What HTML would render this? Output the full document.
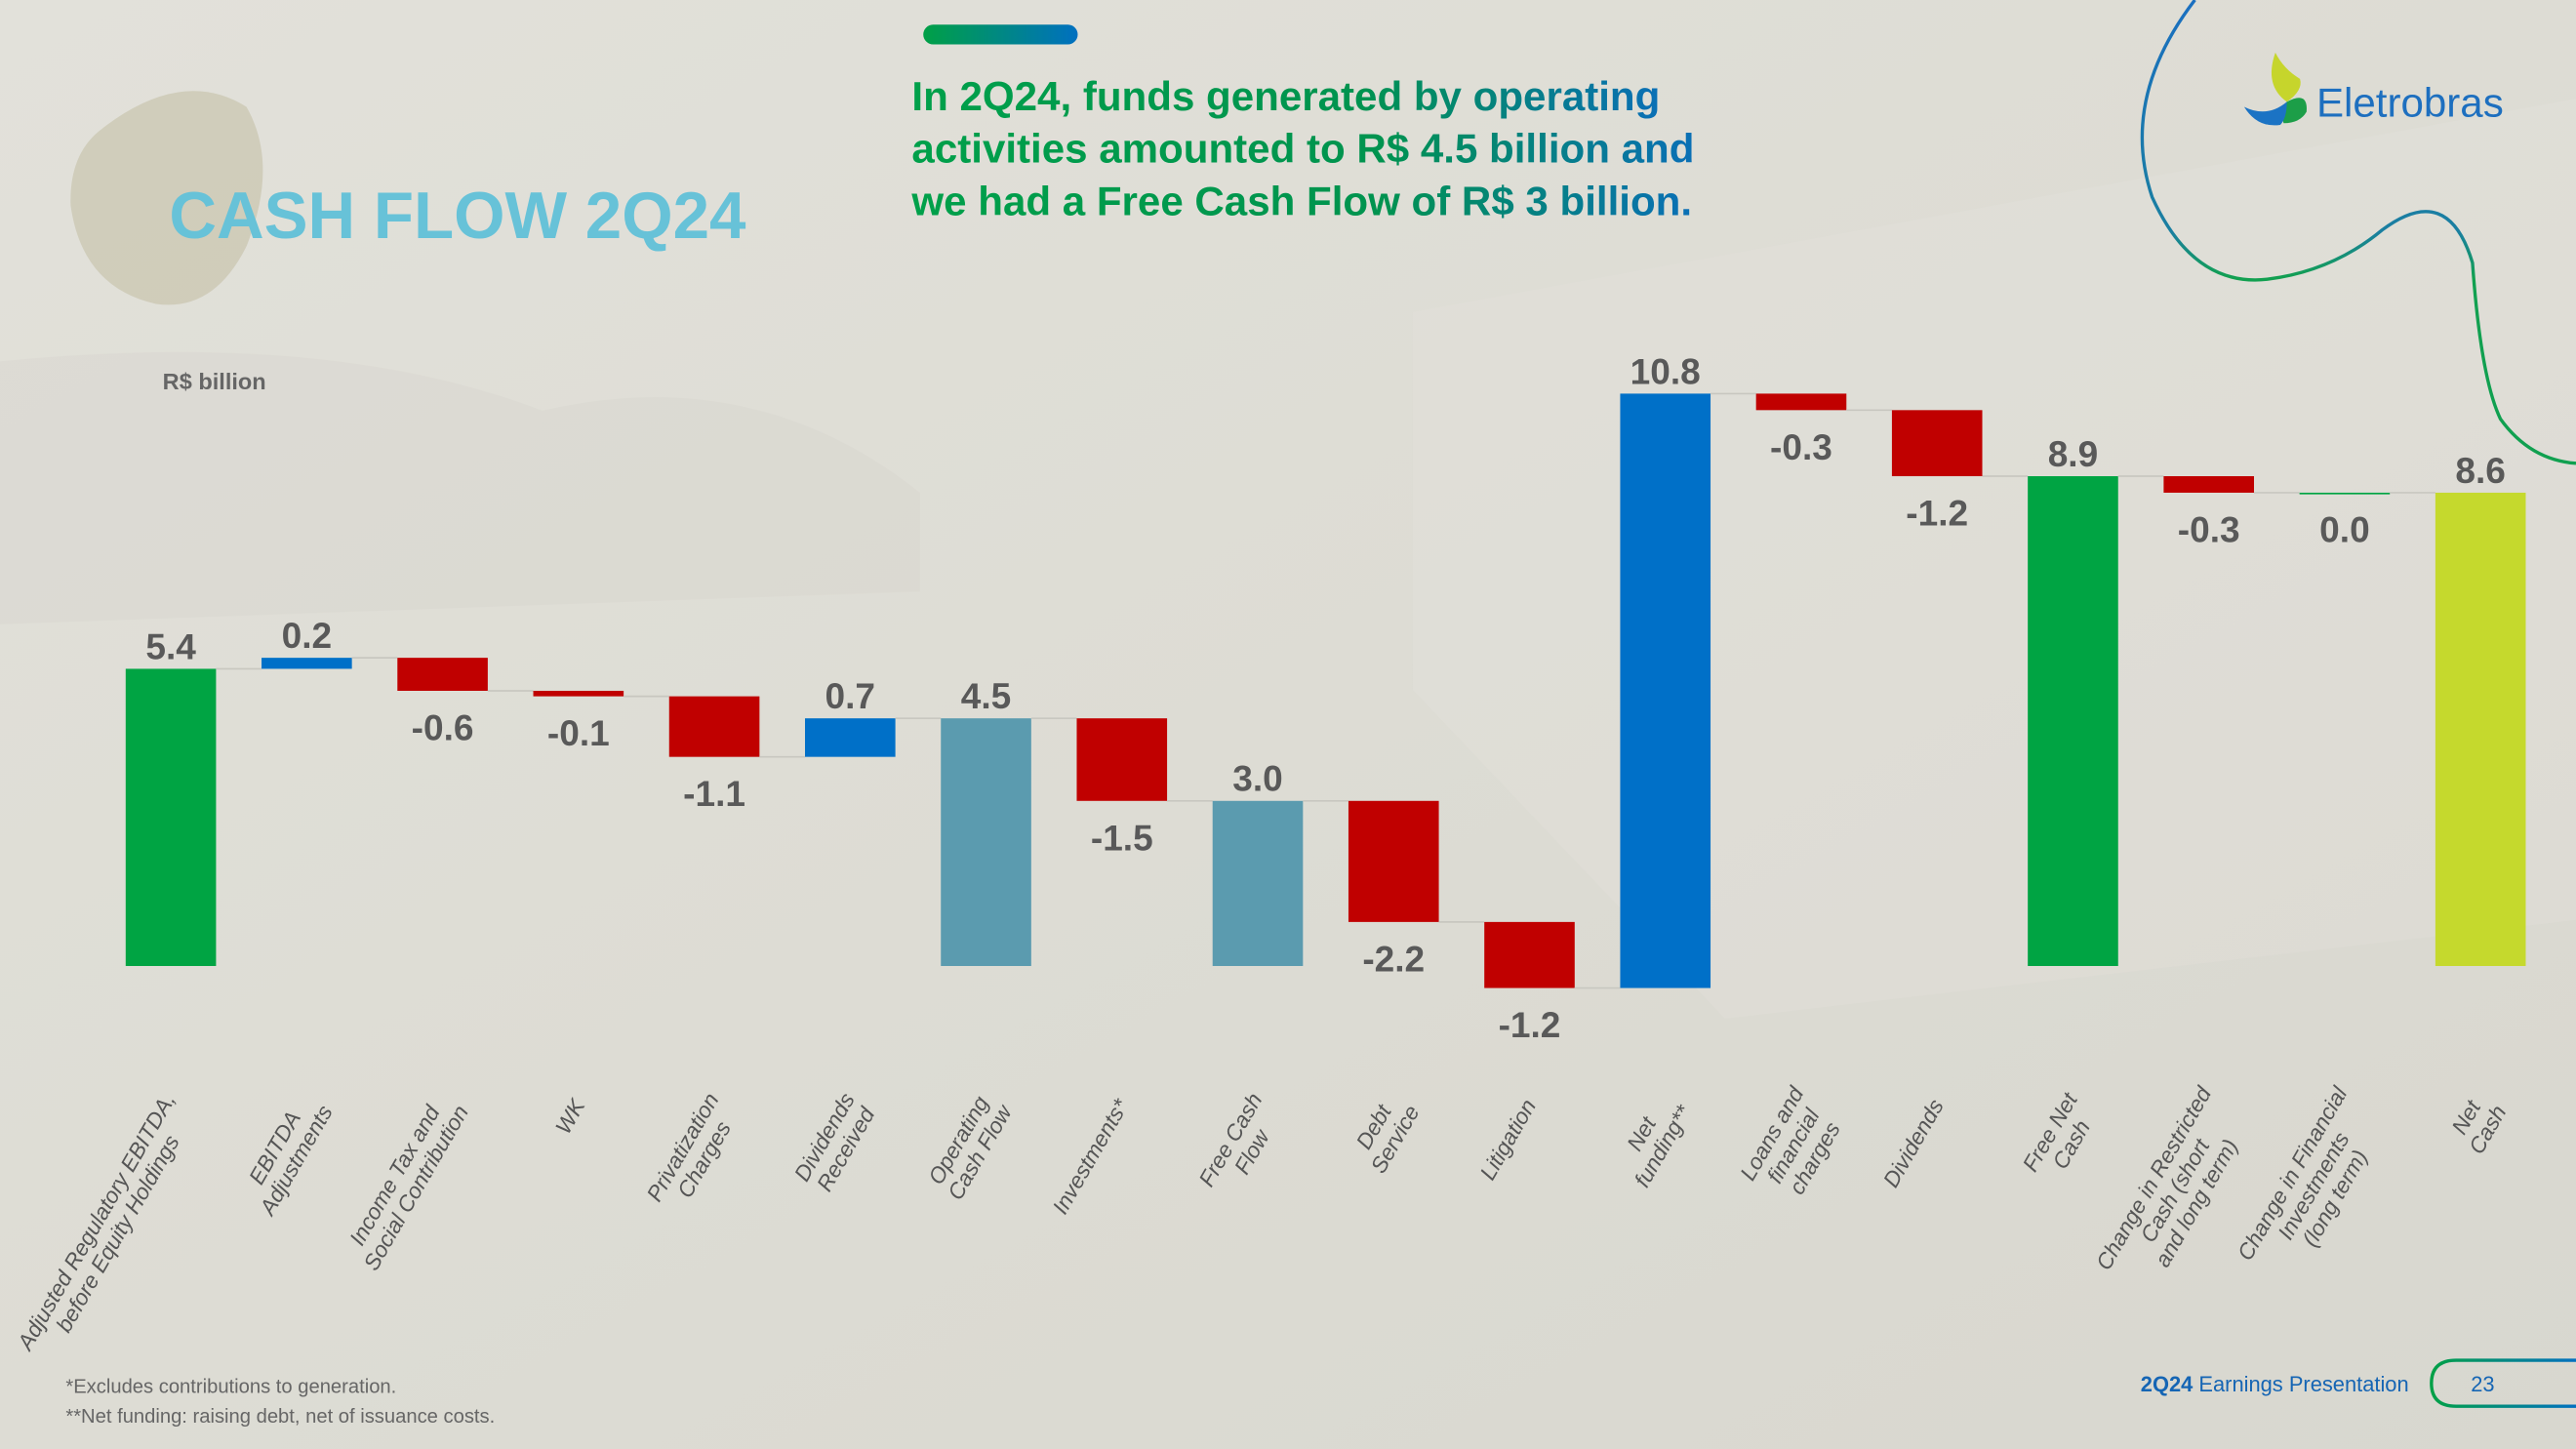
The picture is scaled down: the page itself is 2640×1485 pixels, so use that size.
<!DOCTYPE html>
<html><head><meta charset="utf-8">
<style>
html,body{margin:0;padding:0;background:#dcdbd3;}
svg{display:block;font-family:"Liberation Sans",sans-serif;}
</style></head>
<body>
<svg id="chart" width="2640" height="1485" viewBox="0 0 1568 882" xmlns="http://www.w3.org/2000/svg">
<defs>
<linearGradient id="bg" x1="0" y1="0" x2="1" y2="1">
<stop offset="0" stop-color="#e2e1da"/><stop offset="0.5" stop-color="#dddcd4"/><stop offset="1" stop-color="#d8d7cf"/>
</linearGradient>
<linearGradient id="pill" x1="0" x2="1"><stop offset="0" stop-color="#00a046"/><stop offset="1" stop-color="#0070c0"/></linearGradient>
<linearGradient id="head" x1="0" x2="1"><stop offset="0" stop-color="#00a04a"/><stop offset="0.6" stop-color="#00934f"/><stop offset="1" stop-color="#0a6fb6"/></linearGradient>
<linearGradient id="curve" x1="0" y1="0" x2="0" y2="1"><stop offset="0" stop-color="#1a6fc0"/><stop offset="0.5" stop-color="#1a7fa0"/><stop offset="0.6" stop-color="#12a050"/><stop offset="1" stop-color="#10a050"/></linearGradient>
</defs>
<rect width="1568" height="882" fill="url(#bg)"/>
<path d="M860 190 L1568 60 L1568 560 L1050 620 L860 420 Z" fill="#e6e5df" opacity="0.25"/>
<path d="M0 220 Q200 200 330 250 Q460 220 560 300 L560 360 L0 380 Z" fill="#d3d2c9" opacity="0.3"/>
<path d="M60 80 Q110 40 150 65 Q170 100 150 150 Q130 190 95 185 Q50 175 43 125 Q42 95 60 80 Z" fill="#cdc9b5" opacity="0.85"/>
<rect x="562" y="15" width="94" height="12" rx="6" fill="url(#pill)"/>
<text x="103" y="145" font-size="40" font-weight="bold" fill="#67c2d8">CASH FLOW 2Q24</text>
<g font-size="25" font-weight="bold" fill="url(#head)">
<text x="555" y="67">In 2Q24, funds generated by operating</text>
<text x="555" y="99">activities amounted to R$ 4.5 billion and</text>
<text x="555" y="131">we had a Free Cash Flow of R$ 3 billion.</text>
</g>
<path d="M1336 0 Q1290 60 1310 120 Q1335 175 1380 170 Q1420 165 1450 140 Q1490 110 1505 160 Q1510 230 1522 255 Q1540 280 1568 282" fill="none" stroke="url(#curve)" stroke-width="2"/>
<g>
<path d="M1385 32 Q1378 52 1392 62 Q1402 55 1400 48 Q1390 42 1385 32 Z" fill="#c6d52c"/>
<path d="M1392 62 Q1405 55 1404 68 Q1400 75 1390 75 Q1388 68 1392 62 Z" fill="#1c9e48"/>
<path d="M1366 65 Q1380 72 1392 62 Q1392 72 1388 76 Q1374 78 1366 65 Z" fill="#1b73c4"/>
<text x="1410" y="71" font-size="25" fill="#1d6fbf">Eletrobras</text>
</g>
<text x="99" y="237" font-size="14" font-weight="bold" fill="#666">R$ billion</text>
<g id="plot"></g>
<g id="xlabels" font-size="13.5" font-style="italic" fill="#555"></g>
<g font-size="12" fill="#666">
<text x="40" y="848">*Excludes contributions to generation.</text>
<text x="40" y="866">**Net funding: raising debt, net of issuance costs.</text>
</g>
<text x="1303" y="847" font-size="13" fill="#1565b4"><tspan font-weight="bold">2Q24</tspan> Earnings Presentation</text>
<path d="M1568 828 L1495 828 Q1480 828 1480 842 Q1480 856 1495 856 L1568 856" fill="none" stroke="url(#pill)" stroke-width="2"/>
<text x="1504" y="847" font-size="13" fill="#1565b4">23</text>
</svg>
<script>
const categories = [["Adjusted Regulatory EBITDA,","before Equity Holdings"],["EBITDA","Adjustments"],["Income Tax and","Social Contribution"],["WK"],["Privatization","Charges"],["Dividends","Received"],["Operating","Cash Flow"],["Investments*"],["Free Cash","Flow"],["Debt","Service"],["Litigation"],["Net","funding**"],["Loans and","financial","charges"],["Dividends"],["Free Net","Cash"],["Change in Restricted","Cash (short","and long term)"],["Change in Financial","Investments","(long term)"],["Net","Cash"]];
const values = [5.4,0.2,-0.6,-0.1,-1.1,0.7,4.5,-1.5,3.0,-2.2,-1.2,10.8,-0.3,-1.2,8.9,-0.3,0.0,8.6];
const kinds = ["total","delta","delta","delta","delta","delta","total","delta","total","delta","delta","delta","delta","delta","total","delta","delta","total"];
const labelsTxt = ["5.4","0.2","-0.6","-0.1","-1.1","0.7","4.5","-1.5","3.0","-2.2","-1.2","10.8","-0.3","-1.2","8.9","-0.3","0.0","8.6"];
const totalColors = ["#00a443","","","","","","#5b9baf","","#5b9baf","","","","","","#00a443","","","#c5d92d"];

const NS="http://www.w3.org/2000/svg";
const x0=104, step=82.7, bw=55, base=588, k=33.5;
const xc=i=>x0+i*step;
const y=v=>base-v*k;
const plot=document.getElementById('plot');
let cum=0, prevEnd=null;
values.forEach((v,i)=>{
  let a,b,col;
  if(kinds[i]==="total"){a=0;b=v;cum=v;col=totalColors[i];}
  else{a=cum;b=cum+v;cum=b;col=v>=0?"#0070c8":"#c00000";}
  if(prevEnd!==null){
    const ln=document.createElementNS(NS,'line');
    
    
    ln.setAttribute('x1',xc(i-1)+bw/2);ln.setAttribute('x2',xc(i)-bw/2);
    ln.setAttribute('y1',y(prevEnd));ln.setAttribute('y2',y(prevEnd));
    ln.setAttribute('stroke','#c8c7c0');ln.setAttribute('stroke-width','1');
    plot.appendChild(ln);
  }
  const top=Math.max(a,b), bot=Math.min(a,b);
  const r=document.createElementNS(NS,'rect');
  
  
  r.setAttribute('x',xc(i)-bw/2);r.setAttribute('width',bw);
  r.setAttribute('y',y(top));r.setAttribute('height',Math.max(1,y(bot)-y(top)));
  r.setAttribute('fill',v===0?"#00a443":col);
  plot.appendChild(r);
  const t=document.createElementNS(NS,'text');
  
  
  t.setAttribute('x',xc(i));t.setAttribute('text-anchor','middle');
  t.setAttribute('font-size','22');t.setAttribute('font-weight','bold');t.setAttribute('fill','#595959');
  t.setAttribute('y', (v>0 || kinds[i]==="total") ? y(top)-6 : y(bot)+30);
  t.textContent=labelsTxt[i];
  plot.appendChild(t);
  prevEnd=cum;
});
const xl=document.getElementById('xlabels');
const lh=15, ang=60*Math.PI/180;
categories.forEach((lines,i)=>{
  const g=document.createElementNS(NS,'g');
  
  
  xl.appendChild(g);
  const ts=[];
  lines.forEach((s,j)=>{
    const t=document.createElementNS(NS,'text');
    t.setAttribute('text-anchor','middle');
    t.setAttribute('y',(j-(lines.length-1)/2)*lh+5);
    t.textContent=s;g.appendChild(t);ts.push(t);
  });
  let W=0;ts.forEach(t=>{W=Math.max(W,t.getComputedTextLength());});
  const ex=xc(i)+ (lines.length-1)*lh*0.35, ey=670;
  const cx=ex-W/2*Math.cos(ang), cy=ey+W/2*Math.sin(ang);
  g.setAttribute('transform','translate('+cx+','+cy+') rotate(-60)');
});
</script>
</body></html>
